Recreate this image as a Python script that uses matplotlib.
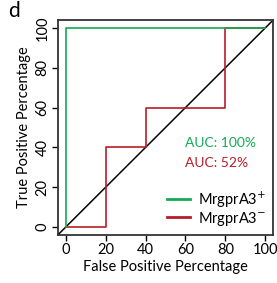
import numpy as np
import matplotlib
matplotlib.use('Agg')
import matplotlib.pyplot as plt

plt.rcParams['font.family'] = ['Lato', 'DejaVu Sans']

# ROC data (percent)
pos_fpr = [0, 0, 100]
pos_tpr = [0, 100, 100]
neg_fpr = [0, 20, 20, 40, 40, 80, 80, 100]
neg_tpr = [0, 0, 40, 40, 60, 60, 100, 100]
ticks = [0, 20, 40, 60, 80, 100]

green = '#12aa55'
red = '#b81c28'

fig = plt.figure(figsize=(2.77, 2.83), dpi=100)
ax = fig.add_axes([0.209, 0.170, 0.777, 0.759])

ax.plot([-4, 104], [-4, 104], color='black', lw=1.1)
ax.plot(neg_fpr, neg_tpr, color=red, lw=1.2, label='MrgprA3$^{-}$')
ax.plot(pos_fpr, pos_tpr, color=green, lw=1.2, label='MrgprA3$^{+}$')

ax.set_xlim(-4, 104)
ax.set_ylim(-4, 104)
ax.set_xticks(ticks)
ax.set_yticks(ticks)
ax.tick_params(direction='out', length=4, width=1, labelsize=10.5, pad=2)
for lab in ax.get_yticklabels():
    lab.set_rotation(90)
    lab.set_va('center')
for s in ax.spines.values():
    s.set_linewidth(1.3)
    s.set_color('#333333')

ax.set_xlabel('False Positive Percentage', fontsize=10.5, labelpad=2)
ax.set_ylabel('True Positive Percentage', fontsize=10.5, labelpad=3)

ax.text(60, 42, 'AUC: 100%', color=green, fontsize=10, va='center')
ax.text(60, 32, 'AUC: 52%', color=red, fontsize=10, va='center')

h, l = ax.get_legend_handles_labels()
leg = ax.legend(h[::-1], l[::-1], loc='lower right', frameon=False, fontsize=10.5,
                handlelength=1.6, handletextpad=0.5, borderaxespad=0.1,
                labelspacing=0.0)
for ln in leg.get_lines():
    ln.set_linewidth(2)

fig.text(0.03, 0.94, 'd', fontsize=15)

fig.savefig('out.png', dpi=100)
